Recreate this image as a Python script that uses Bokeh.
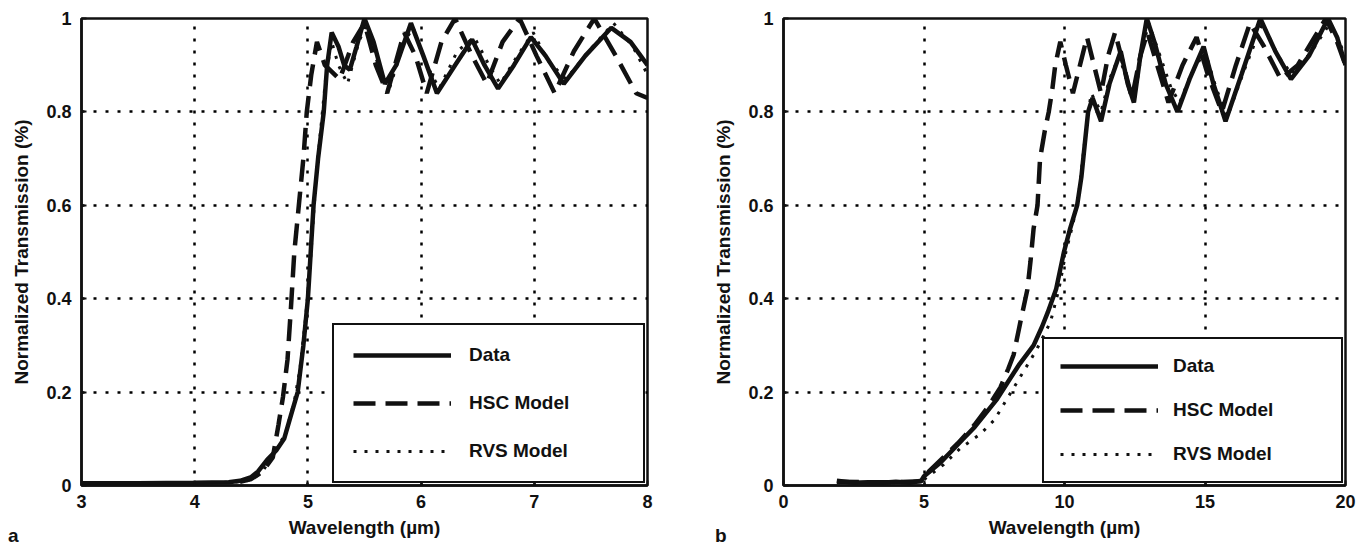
from bokeh.plotting import figure
from bokeh.layouts import row
from bokeh.models import FixedTicker, Legend, LegendItem, Range1d, Div
from bokeh.embed import file_html
from bokeh.resources import INLINE

# ---------------- data: panel a (3-8 um) ----------------
a_data_x = [3.0, 3.5, 4.0, 4.3, 4.4, 4.5, 4.56, 4.64, 4.72, 4.79, 4.85, 4.91, 4.96, 5.0, 5.025,
            5.05, 5.09, 5.14, 5.17, 5.21, 5.27, 5.32, 5.37, 5.43, 5.5, 5.58, 5.68, 5.78, 5.91,
            6.02, 6.14, 6.3, 6.45, 6.56, 6.68, 6.82, 6.97, 7.1, 7.26, 7.45, 7.68, 7.85, 8.0]
a_data_y = [0.005, 0.005, 0.006, 0.007, 0.01, 0.018, 0.03, 0.055, 0.075, 0.1, 0.15, 0.2, 0.3, 0.4, 0.5,
            0.6, 0.7, 0.8, 0.9, 0.97, 0.94, 0.9, 0.89, 0.94, 1.0, 0.95, 0.86, 0.9, 0.99,
            0.92, 0.84, 0.9, 0.955, 0.9, 0.85, 0.9, 0.96, 0.92, 0.86, 0.92, 0.98, 0.95, 0.9]

a_hsc_x = [4.4, 4.5, 4.6, 4.69, 4.74, 4.78, 4.82, 4.85, 4.88, 4.92, 4.96, 4.99, 5.03, 5.08,
           5.15, 5.28, 5.4, 5.5, 5.6, 5.7, 5.85, 5.95, 6.05, 6.18, 6.3, 6.45, 6.58, 6.72,
           6.87, 7.02, 7.18, 7.35, 7.53, 7.72, 7.9, 8.0]
a_hsc_y = [0.008, 0.014, 0.03, 0.06, 0.13, 0.19, 0.27, 0.38, 0.5, 0.6, 0.7, 0.8, 0.88, 0.95,
           0.9, 0.87, 0.95, 0.99, 0.9, 0.84, 0.97, 0.92, 0.84, 0.95, 1.0, 0.92, 0.86, 0.95,
           1.0, 0.92, 0.84, 0.93, 1.0, 0.92, 0.84, 0.83]

a_rvs_x = [3.0, 4.0, 4.4, 4.5, 4.6, 4.7, 4.8, 4.88, 4.93, 4.98, 5.02, 5.05, 5.08, 5.12, 5.16,
           5.21, 5.27, 5.35, 5.45, 5.52, 5.62, 5.72, 5.85, 5.93, 6.05, 6.16, 6.32, 6.47, 6.6,
           6.7, 6.85, 6.99, 7.12, 7.28, 7.48, 7.7, 7.87, 8.0]
a_rvs_y = [0.004, 0.005, 0.008, 0.012, 0.03, 0.07, 0.11, 0.18, 0.25, 0.36, 0.47, 0.58, 0.68, 0.78, 0.88,
           0.95, 0.9, 0.86, 0.95, 0.99, 0.9, 0.85, 0.95, 0.98, 0.9, 0.85, 0.93, 0.96, 0.9,
           0.86, 0.92, 0.97, 0.91, 0.87, 0.93, 0.99, 0.94, 0.88]

# ---------------- data: panel b (0-20 um) ----------------
b_data_x = [1.9, 2.5, 3.0, 3.5, 4.0, 4.5, 4.9, 5.0, 5.3, 5.6, 6.0, 6.4, 6.8, 7.2, 7.6, 7.97,
            8.4, 8.9, 9.2, 9.4, 9.7, 9.98, 10.2, 10.45, 10.6, 10.72, 10.84, 11.0, 11.3, 11.6,
            12.0, 12.25, 12.47, 12.7, 12.93, 13.2, 13.6, 14.02, 14.45, 14.95, 15.3, 15.73,
            16.3, 16.97, 17.5, 18.06, 18.7, 19.38, 19.7, 20.0]
b_data_y = [0.01, 0.006, 0.007, 0.006, 0.008, 0.006, 0.01, 0.02, 0.035, 0.05, 0.075, 0.1, 0.125,
            0.155, 0.185, 0.22, 0.26, 0.3, 0.34, 0.37, 0.42, 0.5, 0.55, 0.6, 0.66, 0.73, 0.8,
            0.83, 0.78, 0.86, 0.93, 0.86, 0.82, 0.92, 1.0, 0.95, 0.86, 0.8, 0.87, 0.94, 0.86,
            0.78, 0.88, 1.0, 0.93, 0.87, 0.92, 1.0, 0.96, 0.9]

b_hsc_x = [1.9, 3.0, 4.0, 4.9, 5.0, 5.6, 6.2, 6.8, 7.3, 7.72, 8.0, 8.19, 8.43, 8.68, 8.79, 8.9,
           9.04, 9.13, 9.3, 9.44, 9.57, 9.67, 9.85, 10.05, 10.3, 10.55, 10.8, 11.05, 11.3,
           11.55, 11.8, 12.1, 12.4, 12.7, 12.95, 13.3, 13.7, 14.2, 14.7, 15.1, 15.6, 16.1,
           16.6, 17.1, 17.7, 18.3, 18.9, 19.3, 19.7, 20.0]
b_hsc_y = [0.008, 0.007, 0.007, 0.009, 0.02, 0.055, 0.09, 0.13, 0.17, 0.21, 0.25, 0.28, 0.35,
           0.42, 0.48, 0.55, 0.6, 0.7, 0.76, 0.8, 0.85, 0.9, 0.95, 0.9, 0.84, 0.9, 0.96, 0.9,
           0.84, 0.92, 0.97, 0.9, 0.83, 0.92, 0.97, 0.9, 0.82, 0.9, 0.96, 0.88, 0.8, 0.9,
           0.99, 0.94, 0.87, 0.9, 0.96, 1.0, 0.95, 0.9]

b_rvs_x = [1.9, 3.0, 4.0, 4.9, 5.05, 5.7, 6.3, 7.0, 7.5, 8.0, 8.5, 9.0, 9.5, 9.8, 10.05, 10.3,
           10.5, 10.65, 10.8, 10.95, 11.3, 11.6, 11.95, 12.3, 12.5, 12.75, 13.0, 13.4, 13.8,
           14.1, 14.5, 15.0, 15.4, 15.8, 16.4, 17.05, 17.6, 18.1, 18.8, 19.45, 19.8, 20.0]
b_rvs_y = [0.006, 0.006, 0.006, 0.008, 0.015, 0.045, 0.08, 0.11, 0.14, 0.19, 0.24, 0.29, 0.35,
           0.42, 0.5, 0.56, 0.62, 0.7, 0.78, 0.84, 0.8, 0.87, 0.92, 0.85, 0.83, 0.93, 0.99,
           0.92, 0.85, 0.82, 0.88, 0.93, 0.85, 0.79, 0.89, 0.99, 0.92, 0.88, 0.93, 0.99, 0.95, 0.91]

# ---------------- ticks / labels ----------------
a_x_ticks = [3, 4, 5, 6, 7, 8]
b_x_ticks = [0, 5, 10, 15, 20]
y_ticks = [0, 0.2, 0.4, 0.6, 0.8, 1]
y_tick_labels = ["0", "0.2", "0.4", "0.6", "0.8", "1"]
series_names = ["Data", "HSC Model", "RVS Model"]
x_title = "Wavelength (\u00b5m)"
y_title = "Normalized Transmission (%)"
panel_tags = ["a", "b"]

FONT = "'Liberation Sans', Arial, sans-serif"
INK = "#111111"


def make_panel(width, bl, br, xr, xticks, series, legend_cfg):
    p = figure(width=width, height=544, output_backend="svg", toolbar_location=None,
               x_range=Range1d(*xr), y_range=Range1d(0, 1),
               min_border_left=bl, min_border_right=br, min_border_top=18, min_border_bottom=59)
    p.background_fill_color = "white"
    p.border_fill_color = "white"
    p.outline_line_color = INK
    p.outline_line_width = 2.5
    p.outline_line_alpha = 1.0
    p.xaxis.ticker = FixedTicker(ticks=xticks)
    p.yaxis.ticker = FixedTicker(ticks=y_ticks)
    p.yaxis.major_label_overrides = {t: s for t, s in zip(y_ticks, y_tick_labels)}
    p.xaxis.major_label_overrides = {t: str(t) for t in xticks}
    for ax in (p.xaxis[0], p.yaxis[0]):
        ax.axis_line_color = INK
        ax.axis_line_width = 2.5
        ax.major_tick_in = 5
        ax.major_tick_out = 0
        ax.major_tick_line_color = INK
        ax.major_tick_line_width = 2
        ax.minor_tick_line_color = None
        ax.major_label_text_font = FONT
        ax.major_label_text_font_style = "bold"
        ax.major_label_text_font_size = "18px"
        ax.major_label_text_color = INK
        ax.axis_label_text_font = FONT
        ax.axis_label_text_font_style = "bold"
        ax.axis_label_text_font_size = "19px"
        ax.axis_label_text_color = INK
    p.xaxis.major_label_standoff = 9
    p.yaxis.major_label_standoff = 10
    p.xaxis.axis_label_standoff = 6
    p.yaxis.axis_label_standoff = 11
    p.xaxis.axis_label = x_title
    p.yaxis.axis_label = y_title
    p.xgrid.ticker = FixedTicker(ticks=xticks)
    p.ygrid.ticker = FixedTicker(ticks=y_ticks)
    for g in (p.xgrid[0], p.ygrid[0]):
        g.grid_line_color = "#000000"
        g.grid_line_width = 2.5
        g.grid_line_dash = "3 9"
        g.grid_line_alpha = 1.0

    (dx, dy), (hx, hy), (rx, ry) = series
    r_rvs = p.line(rx, ry, line_color=INK, line_width=3, line_dash="3 8")
    r_hsc = p.line(hx, hy, line_color=INK, line_width=4.5, line_dash="22 10")
    r_data = p.line(dx, dy, line_color=INK, line_width=4.5)

    pad, standoff, lw, spacing, margin = legend_cfg
    leg = Legend(items=[LegendItem(label=series_names[0], renderers=[r_data]),
                        LegendItem(label=series_names[1], renderers=[r_hsc]),
                        LegendItem(label=series_names[2], renderers=[r_rvs])],
                 location="bottom_right")
    leg.glyph_width = 98
    leg.glyph_height = 20
    leg.label_height = 20
    leg.label_width = lw
    leg.label_standoff = standoff
    leg.padding = pad
    leg.spacing = spacing
    leg.margin = margin
    leg.border_line_color = INK
    leg.border_line_width = 2.5
    leg.border_line_alpha = 1.0
    leg.background_fill_color = "white"
    leg.background_fill_alpha = 1.0
    leg.label_text_font = FONT
    leg.label_text_font_style = "bold"
    leg.label_text_font_size = "19px"
    leg.label_text_color = INK
    leg.label_text_baseline = "middle"
    p.add_layout(leg)
    return p


def make_tag(text, left):
    return Div(text=text, width=12, height=20,
               styles={"position": "absolute", "left": f"{left}px", "top": "526px",
                       "font-family": "'Liberation Sans', Arial, sans-serif",
                       "font-weight": "bold", "font-size": "19px", "line-height": "19px",
                       "color": INK, "margin": "0", "padding": "0"})


pa = make_panel(700, 81, 53, (3, 8), a_x_ticks,
                [(a_data_x, a_data_y), (a_hsc_x, a_hsc_y), (a_rvs_x, a_rvs_y)],
                (19, 18, 155, 26, 2))
pb = make_panel(664, 83, 19, (0, 20), b_x_ticks,
                [(b_data_x, b_data_y), (b_hsc_x, b_hsc_y), (b_rvs_x, b_rvs_y)],
                (16, 15, 152, 22, 2))

layout = row(pa, pb, make_tag(panel_tags[0], 8), make_tag(panel_tags[1], 715))
open("out.html", "w").write(file_html(layout, INLINE))
